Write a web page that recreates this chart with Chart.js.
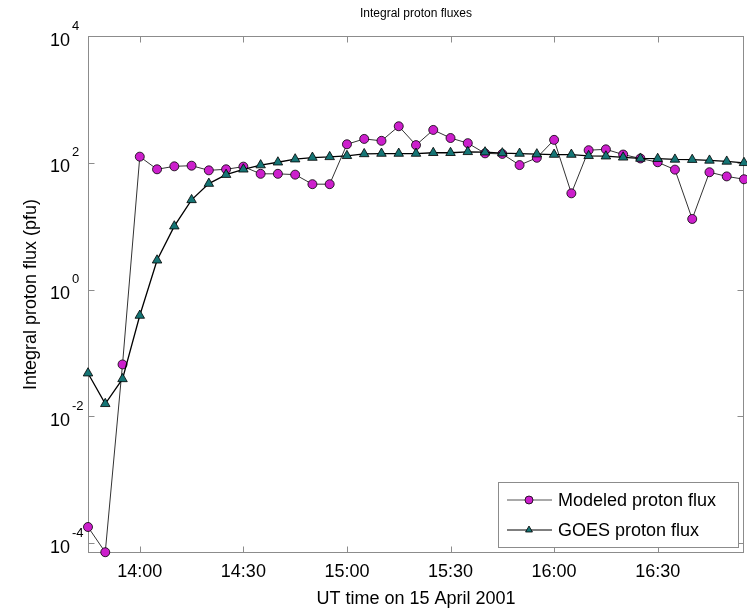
<!DOCTYPE html>
<html>
<head>
<meta charset="utf-8">
<script src="https://cdn.jsdelivr.net/npm/chart.js@4"></script>
<style>
  html, body { margin: 0; padding: 0; background: #fff; }
</style>
</head>
<body>
<canvas id="fluxChart" width="747" height="612"></canvas>
<script>
// 5-minute samples, 15 April 2001
const times = ['13:45', '13:50', '13:55',
  '14:00', '14:05', '14:10', '14:15', '14:20', '14:25', '14:30', '14:35', '14:40', '14:45', '14:50', '14:55',
  '15:00', '15:05', '15:10', '15:15', '15:20', '15:25', '15:30', '15:35', '15:40', '15:45', '15:50', '15:55',
  '16:00', '16:05', '16:10', '16:15', '16:20', '16:25', '16:30', '16:35', '16:40', '16:45', '16:50', '16:55'];

const modeled = [1.8e-4, 7.2e-5, 0.066,
  125, 79, 88, 90, 76, 79, 87, 67, 67, 65, 46, 46,
  196, 238, 222, 377, 190, 330, 246, 204, 141, 138, 92, 120,
  230, 33, 158, 163, 135, 117, 102, 78, 13, 71, 61, 55];

const goes = [0.048, 0.0158, 0.039,
  0.39, 2.9, 10, 26, 47, 65, 79, 92, 102, 114, 121, 124,
  129, 138, 140, 140, 140, 144, 144, 149, 147, 142, 140, 137,
  135, 135, 129, 127, 122, 117, 116, 113, 112, 109, 105, 100];

const xTickLabels = ['14:00', '14:30', '15:00', '15:30', '16:00', '16:30'];
const yTickValues = [1e-4, 1e-2, 1, 1e2, 1e4];

const FONT = '"Liberation Sans", Arial, Helvetica, sans-serif';

function toMin(t) {
  const p = t.split(':');
  return Number(p[0]) * 60 + Number(p[1]);
}
function toLabel(m) {
  const h = Math.floor(m / 60), mm = m % 60;
  return h + ':' + (mm < 10 ? '0' : '') + mm;
}

// box, inward ticks, y labels with exponents, legend
const framePlugin = {
  id: 'frame',
  beforeDatasetsDraw(chart) {
    const {ctx, chartArea: a, scales} = chart;
    ctx.save();
    ctx.strokeStyle = '#8c8c8c';
    ctx.lineWidth = 1;
    const L = Math.round(a.left) + 0.5, R = Math.round(a.right) - 0.5;
    const T = Math.round(a.top) + 0.5, B = Math.round(a.bottom) - 0.5;
    ctx.strokeRect(L, T, R - L, B - T);
    ctx.beginPath();
    xTickLabels.forEach(t => {
      const x = Math.round(scales.x.getPixelForValue(toMin(t))) + 0.5;
      ctx.moveTo(x, B); ctx.lineTo(x, B - 6);
      ctx.moveTo(x, T); ctx.lineTo(x, T + 6);
    });
    yTickValues.forEach(v => {
      const y = Math.round(scales.y.getPixelForValue(v)) + 0.5;
      ctx.moveTo(L, y); ctx.lineTo(L + 6, y);
      ctx.moveTo(R, y); ctx.lineTo(R - 6, y);
    });
    ctx.stroke();

    // y tick labels: 10 with raised exponent
    ctx.fillStyle = '#000';
    yTickValues.forEach(v => {
      const y = scales.y.getPixelForValue(v);
      const e = Math.round(Math.log10(v));
      ctx.font = '18px ' + FONT;
      ctx.textAlign = 'right';
      ctx.textBaseline = 'alphabetic';
      ctx.fillText('10', 70, y + 9.5);
      ctx.font = '13px ' + FONT;
      ctx.textAlign = 'left';
      ctx.fillText(String(e), 72, y - 6.5);
    });
    ctx.restore();
  },
  afterDraw(chart) {
    const {ctx, chartArea: a} = chart;
    const w = 240, h = 65;
    const left = a.right - 6 - w, top = a.bottom - 6 - h;
    ctx.save();
    ctx.fillStyle = '#fff';
    ctx.fillRect(left, top, w, h);
    ctx.strokeStyle = '#8c8c8c';
    ctx.lineWidth = 1;
    ctx.strokeRect(Math.round(left) + 0.5, Math.round(top) + 0.5, w, h);
    const lineCols = ['#555', '#000'];
    chart.data.datasets.forEach((ds, i) => {
      const y = top + 18 + i * 30;
      ctx.strokeStyle = lineCols[i];
      ctx.lineWidth = 1;
      ctx.beginPath();
      ctx.moveTo(left + 9, y); ctx.lineTo(left + 54, y);
      ctx.stroke();
      ctx.fillStyle = ds.pointBackgroundColor;
      ctx.strokeStyle = '#000';
      ctx.lineWidth = 0.8;
      Chart.helpers.drawPoint(ctx, {pointStyle: ds.pointStyle, radius: 4, rotation: 0, borderWidth: 0.8}, left + 31, y);
      ctx.fillStyle = '#000';
      ctx.font = '18px ' + FONT;
      ctx.textAlign = 'left';
      ctx.textBaseline = 'middle';
      ctx.fillText(ds.label, left + 60, y + 1);
    });
    ctx.restore();
  }
};

const ctx = document.getElementById('fluxChart').getContext('2d');
new Chart(ctx, {
  type: 'line',
  data: {
    datasets: [{
      label: 'Modeled proton flux',
      data: times.map((t, i) => ({x: toMin(t), y: modeled[i]})),
      borderColor: '#333',
      borderWidth: 1,
      pointStyle: 'circle',
      pointRadius: 4.5,
      pointBackgroundColor: '#cc1fcc',
      pointBorderColor: '#000',
      pointBorderWidth: 0.8,
      tension: 0,
      clip: false,
      order: 1
    }, {
      label: 'GOES proton flux',
      data: times.map((t, i) => ({x: toMin(t), y: goes[i]})),
      borderColor: '#000',
      borderWidth: 1.3,
      pointStyle: 'triangle',
      pointRadius: 5.5,
      pointBackgroundColor: '#157575',
      pointBorderColor: '#000',
      pointBorderWidth: 0.8,
      tension: 0,
      clip: false,
      order: 0
    }]
  },
  options: {
    responsive: false,
    animation: false,
    layout: { autoPadding: false, padding: { left: 0, right: 3, top: 0, bottom: 0 } },
    plugins: {
      legend: { display: false },
      tooltip: { enabled: false },
      title: {
        display: true,
        text: 'Integral proton fluxes',
        fullSize: false,
        color: '#000',
        font: { family: FONT, size: 12, weight: 'normal' },
        padding: { top: 6, bottom: 15.6 }
      }
    },
    scales: {
      x: {
        type: 'linear',
        min: toMin(times[0]),
        max: toMin(times[times.length - 1]),
        grid: { display: false, drawTicks: false },
        border: { display: false },
        afterBuildTicks: s => { s.ticks = xTickLabels.map(t => ({value: toMin(t)})); },
        ticks: {
          callback: v => toLabel(v),
          color: '#000',
          font: { family: FONT, size: 18 },
          padding: 8,
          maxRotation: 0,
          autoSkip: false
        },
        title: {
          display: true,
          text: 'UT time on 15 April 2001',
          color: '#000',
          font: { family: FONT, size: 18 },
          padding: { top: 0, bottom: 2 }
        },
        afterFit: s => { s.height = 59; }
      },
      y: {
        type: 'logarithmic',
        min: 7.2e-5,
        max: 1e4,
        grid: { display: false, drawTicks: false },
        border: { display: false },
        afterBuildTicks: s => { s.ticks = yTickValues.map(v => ({value: v})); },
        ticks: { display: false },
        title: {
          display: true,
          text: 'Integral proton flux (pfu)',
          color: '#000',
          font: { family: FONT, size: 18 },
          padding: { top: 20, bottom: 0 }
        },
        afterFit: s => { s.width = 88; }
      }
    }
  },
  plugins: [framePlugin]
});
</script>
</body>
</html>
